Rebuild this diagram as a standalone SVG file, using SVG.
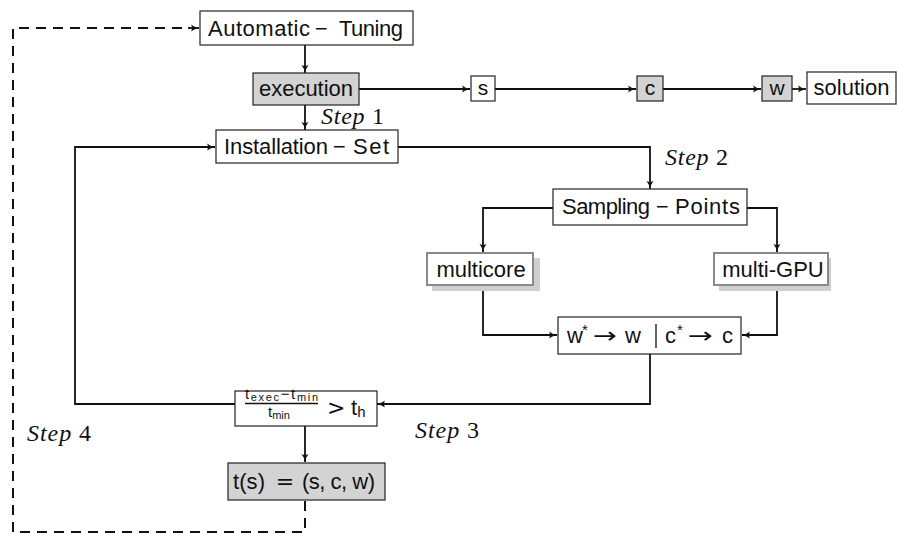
<svg xmlns="http://www.w3.org/2000/svg" width="898" height="537" viewBox="0 0 898 537">
<defs>
<marker id="ah" markerWidth="10" markerHeight="8" refX="9" refY="4" orient="auto" markerUnits="userSpaceOnUse">
<path d="M1,0.5 Q4,3 9,4 Q4,5 1,7.5 Q3,4 1,0.5 Z" fill="#111"/>
</marker>
<filter id="sh" x="-10%" y="-10%" width="130%" height="140%"><feGaussianBlur stdDeviation="0.6"/></filter>
</defs>
<style>
.box{fill:#fff;stroke:#222;stroke-width:1.2}
.gray{fill:#d3d3d3;stroke:#222;stroke-width:1.2}
.sbox{fill:#fff;stroke:#8a8a8a;stroke-width:2}
.shadow{fill:#cfcfcf}
.t{font-family:"Liberation Sans",Arial,sans-serif;font-size:22px;fill:#111}
.sym{font-family:"DejaVu Sans",sans-serif;font-size:22px;fill:#111}
.mn{font-family:"DejaVu Sans",sans-serif;font-size:17px;fill:#111}
.m{text-anchor:middle}
.st{font-family:"Liberation Serif",serif;font-style:italic;font-size:24px;fill:#111}
.ln{fill:none;stroke:#111;stroke-width:1.8}
.arr{marker-end:url(#ah)}
.dash{fill:none;stroke:#111;stroke-width:2;stroke-dasharray:10,7}
</style>
<g id="connectors">
<path class="dash" d="M305,501 V532 H13 V28 H190"/>
<path class="ln arr" d="M188,28 H199"/>
<path class="ln arr" d="M305,45 V73"/>
<path class="ln arr" d="M305,105 V130"/>
<path class="ln arr" d="M359,89 H470"/>
<path class="ln arr" d="M495,89 H636"/>
<path class="ln arr" d="M663,89 H761"/>
<path class="ln arr" d="M792,89 H806"/>
<path class="ln arr" d="M398,147 H650 V189"/>
<path class="ln arr" d="M553,208 H483 V252"/>
<path class="ln arr" d="M747,208 H777 V252"/>
<path class="ln arr" d="M483,286 V335 H557"/>
<path class="ln arr" d="M777,286 V335 H742"/>
<path class="ln arr" d="M650,354 V404 H377"/>
<path class="ln arr" d="M235,404 H75 V147 H215"/>
<path class="ln arr" d="M305,426 V462"/>
</g>
<g id="n-auto"><rect class="box" x="200" y="11" width="213" height="34"/>
<text class="t" x="208" y="36" textLength="102" lengthAdjust="spacing">Automatic</text><text class="mn m" x="321" y="34">−</text><text class="t" x="339" y="36" textLength="64" lengthAdjust="spacing">Tuning</text></g>
<g id="n-exec"><rect class="gray" x="253" y="73" width="106" height="32"/><text class="t m" x="306" y="96">execution</text></g>
<g id="n-s"><rect class="box" x="471" y="76" width="24" height="25"/><text class="t m" x="483" y="95" style="font-size:21px">s</text></g>
<g id="n-c"><rect class="gray" x="637" y="76" width="26" height="25"/><text class="t m" x="650" y="95" style="font-size:21px">c</text></g>
<g id="n-w"><rect class="gray" x="762" y="76" width="30" height="25"/><text class="t m" x="777" y="95" style="font-size:21px">w</text></g>
<g id="n-sol"><rect class="box" x="807" y="72" width="89" height="32"/><text class="t m" x="851.5" y="95">solution</text></g>
<g id="n-inst"><rect class="box" x="216" y="130" width="182" height="33"/>
<text class="t" x="224" y="154" textLength="104" lengthAdjust="spacing">Installation</text><text class="mn m" x="339" y="152">−</text><text class="t" x="353" y="154" textLength="36" lengthAdjust="spacing">Set</text></g>
<g id="n-samp"><rect class="box" x="553" y="189" width="194" height="36"/>
<text class="t" x="562" y="214" textLength="88" lengthAdjust="spacing">Sampling</text><text class="mn m" x="662" y="212">−</text><text class="t" x="675" y="214" textLength="65" lengthAdjust="spacing">Points</text></g>
<g id="n-mc"><rect class="shadow" x="432" y="258" width="108" height="33" filter="url(#sh)"/><rect class="sbox" x="427" y="253" width="106" height="32"/><text class="t m" x="481" y="277">multicore</text></g>
<g id="n-gpu"><rect class="shadow" x="719" y="258" width="112" height="33" filter="url(#sh)"/><rect class="sbox" x="714" y="253" width="114" height="32"/><text class="t m" x="773" y="277">multi-GPU</text></g>
<g id="n-wc"><rect class="box" x="558" y="317" width="183" height="37"/>
<text class="t" x="567" y="343">w</text><text class="t" x="582" y="335" style="font-size:15px">*</text>
<text class="sym" x="593" y="343" textLength="24" lengthAdjust="spacingAndGlyphs">→</text>
<text class="t" x="625" y="343">w</text>
<line x1="656" y1="324" x2="656" y2="348" stroke="#111" stroke-width="1.3"/>
<text class="t" x="665" y="343">c</text><text class="t" x="677" y="335" style="font-size:15px">*</text>
<text class="sym" x="688" y="343" textLength="25" lengthAdjust="spacingAndGlyphs">→</text>
<text class="t" x="722" y="343">c</text></g>
<g id="n-frac"><rect class="box" x="235" y="391" width="142" height="35"/>
<text class="t" style="font-size:15px" x="245" y="399" textLength="73" lengthAdjust="spacing">t<tspan style="font-size:11px" dy="2">exec</tspan><tspan dy="-2">−t</tspan><tspan style="font-size:11px" dy="2">min</tspan></text>
<line x1="245" y1="403.5" x2="318" y2="403.5" stroke="#111" stroke-width="1.3"/>
<text class="t" style="font-size:15px" x="268" y="417">t<tspan style="font-size:11px" dy="2">min</tspan></text>
<text class="sym" x="327" y="415">&gt;</text><text class="t" x="351" y="415">t<tspan style="font-size:15px" dy="2">h</tspan></text></g>
<g id="n-ts"><rect class="gray" x="228" y="463" width="157" height="37"/>
<text class="t" x="233" y="489" textLength="32" lengthAdjust="spacing">t(s)</text><text class="sym m" x="285" y="489">=</text><text class="t" x="302" y="489" textLength="73" lengthAdjust="spacing">(s, c, w)</text></g>
<g id="labels">
<text class="st" x="321" y="124" textLength="63" lengthAdjust="spacing">Step <tspan font-style="normal">1</tspan></text>
<text class="st" x="665" y="165" textLength="63" lengthAdjust="spacing">Step <tspan font-style="normal">2</tspan></text>
<text class="st" x="415" y="438" textLength="64" lengthAdjust="spacing">Step <tspan font-style="normal">3</tspan></text>
<text class="st" x="27" y="441" textLength="64" lengthAdjust="spacing">Step <tspan font-style="normal">4</tspan></text>
</g>
</svg>
